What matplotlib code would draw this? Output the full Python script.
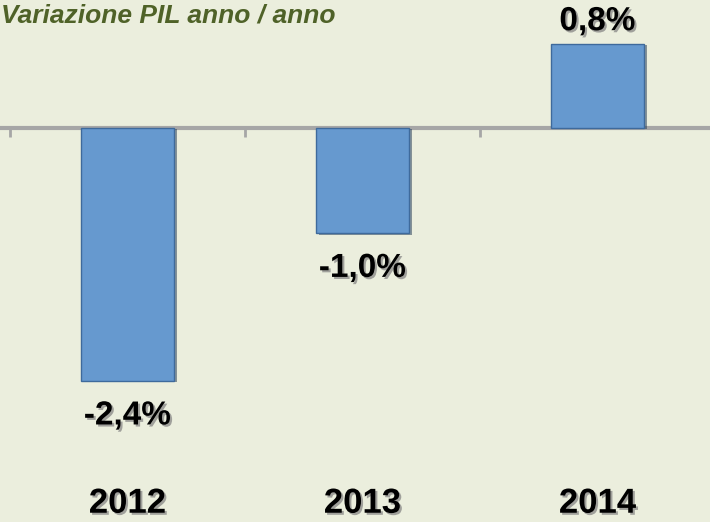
import matplotlib
matplotlib.use("Agg")
import matplotlib.pyplot as plt
import matplotlib.patheffects as pe

# data
years = ["2012", "2013", "2014"]
pil = [-2.4, -1.0, 0.8]
labels = ["-2,4%", "-1,0%", "0,8%"]

bg = "#EBEEDD"
bar_col = "#6699CF"

plt.rcParams['font.family'] = ['Liberation Sans', 'DejaVu Sans']

fig = plt.figure(figsize=(7.1, 5.22), dpi=100, facecolor=bg)
ax = fig.add_axes([0, 0, 1, 1], facecolor=bg)

x = list(range(len(years)))
bars = ax.bar(x, pil, width=0.395, color=bar_col, edgecolor="#3E6A9C", linewidth=1.0, zorder=3)
for b in bars:
    b.set_path_effects([pe.SimplePatchShadow(offset=(2, -1), shadow_rgbFace="#1F3550", alpha=0.5), pe.Normal()])

# axis line and tick marks at category boundaries
ax.axhline(0, color="#A6A6A6", lw=3, zorder=2)
ax.vlines([i - 0.5 for i in x], -0.09, 0, color="#A6A6A6", lw=2, zorder=2)

shadow = [pe.SimplePatchShadow(offset=(1.5, -1.5), shadow_rgbFace="#808080", alpha=0.7), pe.Normal()]

# value labels
for xi, v, lab in zip(x, pil, labels):
    off = 22 if v > 0 else -35
    ax.annotate(lab, (xi, v), xytext=(0, off), textcoords="offset pixels",
                ha="center", va="center", fontsize=24, fontweight="bold",
                color="black", path_effects=shadow, zorder=4)

# year labels
for xi, yr in zip(x, years):
    ax.text(xi, -3.56, yr, ha="center", va="center", fontsize=25,
            fontweight="bold", color="black", path_effects=shadow)

ax.text(-0.54, 1.0, "Variazione PIL anno / anno", ha="left", va="baseline",
        fontsize=19, fontweight="bold", fontstyle="italic", color="#4F6228")

ax.set_xlim(-0.5426, 2.4787)
ax.set_ylim(-3.738, 1.2144)
ax.axis("off")

fig.savefig("out.png", dpi=100, facecolor=bg)
